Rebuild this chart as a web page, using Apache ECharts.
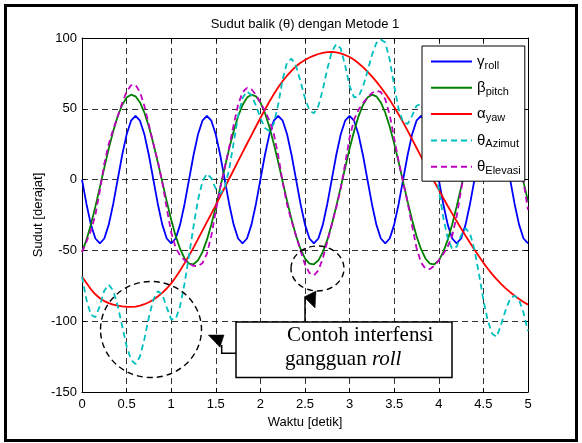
<!DOCTYPE html>
<html>
<head>
<meta charset="utf-8">
<title>Sudut balik (θ) dengan Metode 1</title>
<script src="https://cdn.jsdelivr.net/npm/echarts/dist/echarts.min.js"></script>
<style>
  html, body { margin: 0; padding: 0; background: #fff; }
  #chart { width: 582px; height: 443px; }
</style>
</head>
<body>
<div id="chart"></div>
<script>
// sample step of the simulation (detik)
const DT = 0.05
const xTicks = [0, 0.5, 1, 1.5, 2, 2.5, 3, 3.5, 4, 4.5, 5]
const yTicks = [-150, -100, -50, 0, 50, 100]

// gamma roll
const roll = [
  0, -17.2, -31.8, -41.6, -45, -41.6, -31.8, -17.2, 0, 17.2, 31.8, 41.6, 45, 41.6, 31.8, 17.2,
  0, -17.2, -31.8, -41.6, -45, -41.6, -31.8, -17.2, 0, 17.2, 31.8, 41.6, 45, 41.6, 31.8, 17.2,
  0, -17.2, -31.8, -41.6, -45, -41.6, -31.8, -17.2, 0, 17.2, 31.8, 41.6, 45, 41.6, 31.8, 17.2,
  0, -17.2, -31.8, -41.6, -45, -41.6, -31.8, -17.2, 0, 17.2, 31.8, 41.6, 45, 41.6, 31.8, 17.2,
  0, -17.2, -31.8, -41.6, -45, -41.6, -31.8, -17.2, 0, 17.2, 31.8, 41.6, 45, 41.6, 31.8, 17.2,
  0, -17.2, -31.8, -41.6, -45, -41.6, -31.8, -17.2, 0, 17.2, 31.8, 41.6, 45, 41.6, 31.8, 17.2,
  0, -17.2, -31.8, -41.6, -45
]
// beta pitch
const pitch = [
  -51.2, -42.6, -31.7, -19.1, -5.5, 8.4, 21.9, 34.2, 44.7, 52.7, 57.9, 60.0, 58.8, 54.5, 47.2, 37.3,
  25.4, 12.3, -1.6, -15.4, -28.3, -39.8, -49.0, -55.7, -59.3, -59.8, -57.0, -51.2, -42.6, -31.7, -19.1, -5.5,
  8.4, 21.9, 34.2, 44.7, 52.7, 57.9, 60.0, 58.8, 54.5, 47.2, 37.3, 25.4, 12.3, -1.6, -15.4, -28.3,
  -39.8, -49.0, -55.7, -59.3, -59.8, -57.0, -51.2, -42.6, -31.7, -19.1, -5.5, 8.4, 21.9, 34.2, 44.7, 52.7,
  57.9, 60.0, 58.8, 54.5, 47.2, 37.3, 25.4, 12.3, -1.6, -15.4, -28.3, -39.8, -49.0, -55.7, -59.3, -59.8,
  -57.0, -51.2, -42.6, -31.7, -19.1, -5.5, 8.4, 21.9, 34.2, 44.7, 52.7, 57.9, 60.0, 58.8, 54.5, 47.2,
  37.3, 25.4, 12.3, -1.6, -15.4
]
// alpha yaw
const yaw = [
  -68.5, -73, -77.5, -81, -83.8, -85.8, -87.2, -88.3, -89, -89.5, -89.8, -89.9, -89.7, -89, -88, -86.6,
  -84.8, -82.6, -80, -76.9, -73.3, -69, -64.2, -59, -53.6, -48, -42, -36, -30, -24, -18, -11.8,
  -5.6, 0.6, 6.8, 13, 19.2, 25.3, 31.4, 37.5, 43.5, 49.3, 55, 60.3, 65.2, 69.6, 73.5, 77,
  80, 82.5, 84.5, 86.2, 87.6, 88.7, 89.5, 90, 90.2, 89.9, 89.2, 88, 86.6, 84.6, 82.2, 79.4,
  76.3, 72.9, 69.2, 65.2, 60.9, 56.3, 51.3, 46, 40.4, 34.6, 28.6, 22.5, 16.4, 10.3, 4.4, -1.5,
  -7.3, -13, -18.6, -24, -29.3, -34.5, -39.6, -44.6, -49.5, -54.2, -58.8, -63, -66.9, -70.5, -73.8, -76.8,
  -79.5, -82, -84.3, -86.4, -88.3
]
// theta azimut
const azimut = [
  -68.5, -84.8, -95.5, -97.2, -89.3, -78.4, -74.2, -78.4, -89.0, -103.3, -117.5, -127.4, -130.2, -124.9, -112.5, -97.2,
  -84.8, -78.8, -81.0, -90.2, -98.7, -98.6, -89.3, -73.3, -53.6, -33.0, -14.5, -1.3, 4.1, 1.0, -6.5, -10.1,
  -5.6, 7.2, 26.0, 45.0, 57.7, 62.2, 59.6, 52.3, 43.5, 36.5, 34.4, 39.5, 53.2, 71.0, 82.9, 85.4,
  80.0, 69.3, 57.4, 48.8, 46.8, 52.0, 63.7, 78.2, 90.2, 95.7, 92.6, 80.6, 66.1, 58.1, 58.6, 65.6,
  76.3, 87.9, 96.5, 99.0, 96.8, 84.6, 66.2, 49.8, 40.4, 39.3, 45.0, 52.1, 53.4, 46.6, 32.5, 13.5,
  -7.3, -26.6, -41.4, -49.0, -47.4, -39.4, -34.4, -38.0, -49.5, -66.5, -85.1, -99.9, -109, -111, -102, -92,
  -84, -82, -85, -94, -107
]
// theta elevasi
const elevasi = [
  -51.2, -43.9, -36.0, -24.9, -7.8, 11.2, 25.3, 35.4, 44.7, 54.0, 62.0, 66.6, 66.8, 61.9, 51.8, 38.6,
  25.4, 12.9, -1.9, -20.2, -37.3, -48.1, -53.6, -56.9, -59.3, -60.9, -61.1, -59.0, -52.4, -39.6, -22.2, -5.8,
  8.4, 22.8, 38.6, 52.9, 61.7, 64.8, 63.8, 59.9, 54.5, 48.5, 41.9, 32.4, 17.1, -2.1, -18.0, -29.4,
  -39.8, -50.3, -59.9, -66.0, -67.6, -64.1, -55.6, -43.9, -31.7, -19.9, -6.5, 11.2, 29.6, 42.3, 49.4, 54.0,
  57.9, 61.1, 62.8, 61.9, 56.8, 45.5, 29.2, 12.9, -1.6, -16.1, -32.4, -48.1, -58.4, -62.9, -63.2, -60.9,
  -57.0, -52.5, -47.3, -39.6, -26.1, -7.3, 9.9, 22.8, 34.2, 46.0, 57.1, 64.8, 67.8, 65.6, 58.8, 48.5,
  37.3, 26.4, 14.4, -2.1, -21.3
]

const greek = { roll: 'γ', pitch: 'β', yaw: 'α', Azimut: 'θ', Elevasi: 'θ' }
const FONT = 'Liberation Sans, Arial, Helvetica, sans-serif'
const SERIF = 'Liberation Serif, Times New Roman, serif'

const chart = echarts.init(document.getElementById('chart'), null, { renderer: 'canvas' })

function pairs (arr) {
  return arr.map((v, i) => [+(i * DT).toFixed(2), v])
}

function lineSeries (name, data, color, dashed) {
  return {
    name: name,
    type: 'line',
    data: pairs(data),
    symbol: 'none',
    showSymbol: false,
    smooth: false,
    lineStyle: { color: color, width: 1.8, type: dashed ? [6, 4] : 'solid' },
    itemStyle: { color: color },
    emphasis: { disabled: true }
  }
}

const gridLine = { show: true, lineStyle: { color: '#000', width: 0.8, type: [6, 4] } }

const option = {
  backgroundColor: '#fff',
  animation: false,
  title: {
    text: 'Sudut balik (θ) dengan Metode 1',
    left: 305,
    top: 18,
    textAlign: 'center',
    padding: 0,
    textStyle: { fontSize: 13, fontWeight: 'normal', color: '#000', fontFamily: FONT }
  },
  grid: { left: 82, top: 38, width: 446, height: 354, show: false },
  legend: {
    orient: 'vertical',
    left: 422,
    top: 46,
    padding: [6, 4, 5, 8],
    itemWidth: 41,
    itemHeight: 14,
    itemGap: 7.3,
    backgroundColor: '#fff',
    borderColor: '#000',
    borderWidth: 1,
    selectedMode: false,
    itemStyle: { opacity: 0 },
    data: ['roll', 'pitch', 'yaw', 'Azimut', 'Elevasi'],
    formatter: name => '{g|' + greek[name] + '}{s|' + name + '}',
    textStyle: {
      color: '#000',
      fontFamily: FONT,
      rich: {
        g: { fontSize: 15, lineHeight: 20, fontFamily: FONT, color: '#000' },
        s: { fontSize: 11, lineHeight: 12, padding: [8, 0, 0, 0], fontFamily: FONT, color: '#000' }
      }
    }
  },
  xAxis: [
    {
      type: 'value',
      min: xTicks[0],
      max: xTicks[xTicks.length - 1],
      interval: 0.5,
      position: 'bottom',
      axisLine: { show: true, onZero: false, lineStyle: { color: '#000', width: 1 } },
      axisTick: { show: true, inside: true, length: 4, lineStyle: { color: '#000' } },
      axisLabel: { color: '#000', fontSize: 13, margin: 6, fontFamily: FONT },
      splitLine: gridLine,
      name: 'Waktu [detik]',
      nameLocation: 'middle',
      nameGap: 21,
      nameTextStyle: { color: '#000', fontSize: 13, fontFamily: FONT }
    },
    {
      type: 'value',
      min: xTicks[0],
      max: xTicks[xTicks.length - 1],
      interval: 0.5,
      position: 'top',
      axisLine: { show: true, onZero: false, lineStyle: { color: '#000', width: 1 } },
      axisTick: { show: true, inside: true, length: 4, lineStyle: { color: '#000' } },
      axisLabel: { show: false },
      splitLine: { show: false }
    }
  ],
  yAxis: [
    {
      type: 'value',
      min: yTicks[0],
      max: yTicks[yTicks.length - 1],
      interval: 50,
      position: 'left',
      axisLine: { show: true, onZero: false, lineStyle: { color: '#000', width: 1 } },
      axisTick: { show: true, inside: true, length: 4, lineStyle: { color: '#000' } },
      axisLabel: { color: '#000', fontSize: 13, margin: 5, fontFamily: FONT },
      splitLine: gridLine,
      name: 'Sudut [derajat]',
      nameLocation: 'middle',
      nameGap: 37,
      nameMoveOverlap: false,
      nameTextStyle: { color: '#000', fontSize: 13, fontFamily: FONT }
    },
    {
      type: 'value',
      min: yTicks[0],
      max: yTicks[yTicks.length - 1],
      interval: 50,
      position: 'right',
      axisLine: { show: true, onZero: false, lineStyle: { color: '#000', width: 1 } },
      axisTick: { show: true, inside: true, length: 4, lineStyle: { color: '#000' } },
      axisLabel: { show: false },
      splitLine: { show: false }
    }
  ],
  series: [
    lineSeries('roll', roll, '#0000ff', false),
    lineSeries('pitch', pitch, '#008000', false),
    lineSeries('yaw', yaw, '#ff0000', false),
    lineSeries('Azimut', azimut, '#00bfbf', true),
    lineSeries('Elevasi', elevasi, '#bf00bf', true)
  ],
  graphic: [
    // bingkai gambar
    {
      type: 'rect', z: 100, silent: true,
      shape: { x: 5.5, y: 5.5, width: 571, height: 435 },
      style: { fill: null, stroke: '#000', lineWidth: 3 }
    },
    // lingkaran penanda
    {
      type: 'ellipse', z: 100, silent: true,
      shape: { cx: 151, cy: 329.5, rx: 50.5, ry: 48 },
      style: { fill: null, stroke: '#000', lineWidth: 1.4, lineDash: [6, 4] }
    },
    {
      type: 'ellipse', z: 100, silent: true,
      shape: { cx: 317.5, cy: 268.5, rx: 26.5, ry: 22.5 },
      style: { fill: null, stroke: '#000', lineWidth: 1.4, lineDash: [6, 4] }
    },
    // kotak keterangan
    {
      type: 'rect', z: 100, silent: true,
      shape: { x: 236, y: 322, width: 216, height: 55.5 },
      style: { fill: '#fff', stroke: '#000', lineWidth: 1.5 }
    },
    {
      type: 'text', z: 101, silent: true,
      style: {
        x: 287, y: 335.5, text: 'Contoh interfensi',
        font: '21px ' + SERIF, fill: '#000', align: 'left', verticalAlign: 'middle'
      }
    },
    {
      type: 'text', z: 101, silent: true,
      style: {
        x: 285, y: 359.5, text: '{n|gangguan }{i|roll}',
        fill: '#000', align: 'left', verticalAlign: 'middle',
        rich: {
          n: { fontSize: 21, fontFamily: SERIF, fill: '#000' },
          i: { fontSize: 21, fontFamily: SERIF, fontStyle: 'italic', fill: '#000' }
        }
      }
    },
    // panah
    {
      type: 'polyline', z: 100, silent: true,
      shape: { points: [[236, 353.3], [221.7, 353.3], [221.7, 345]] },
      style: { fill: null, stroke: '#000', lineWidth: 1.5 }
    },
    {
      type: 'polygon', z: 100, silent: true,
      shape: { points: [[208.3, 335], [224, 335], [220, 347.3]] },
      style: { fill: '#000', stroke: '#000', lineWidth: 0.5 }
    },
    {
      type: 'polyline', z: 100, silent: true,
      shape: { points: [[305, 322], [305, 298]] },
      style: { fill: null, stroke: '#000', lineWidth: 1.5 }
    },
    {
      type: 'polygon', z: 100, silent: true,
      shape: { points: [[304, 297], [316, 291], [315, 308]] },
      style: { fill: '#000', stroke: '#000', lineWidth: 0.5 }
    }
  ]
}

chart.setOption(option)
</script>
</body>
</html>
